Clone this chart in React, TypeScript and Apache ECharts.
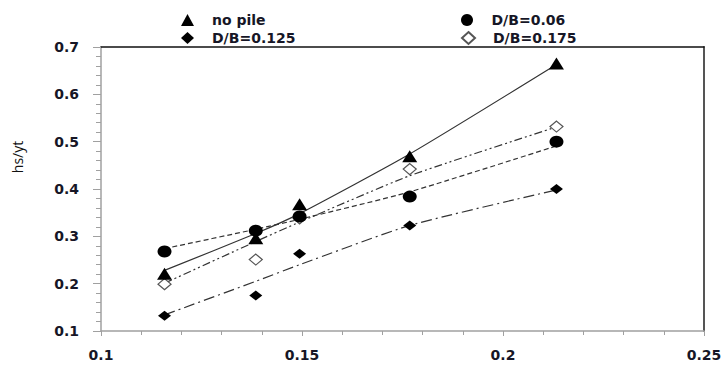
import React, { useEffect, useRef } from "react";
import * as echarts from "echarts";

// x positions of the measurements
const xValues = [0.1158, 0.1385, 0.1494, 0.1768, 0.2133];

// measured points
const noPile = [0.221, 0.296, 0.368, 0.469, 0.665];
const db006 = [0.268, 0.312, 0.342, 0.384, 0.5];
const db0125 = [0.132, 0.175, 0.263, 0.323, 0.4];
const db0175 = [0.199, 0.251, 0.338, 0.442, 0.532];

// trend lines, read at the same x positions
const trendNoPile = [0.228, 0.306, 0.348, 0.474, 0.663];
const trend006 = [0.274, 0.315, 0.336, 0.394, 0.491];
const trend0125 = [0.134, 0.205, 0.24, 0.323, 0.398];
const trend0175 = [0.201, 0.289, 0.33, 0.428, 0.531];

const xTicks = { min: 0.1, max: 0.25, interval: 0.05 };
const yTicks = { min: 0.1, max: 0.7, interval: 0.1 };

const pair = (ys: number[]) => xValues.map((x, i) => [x, ys[i]]);

const FONT = "DejaVu Sans";
const TEXT = "#161626";

export default function App() {
  const ref = useRef<HTMLDivElement>(null);
  useEffect(() => {
    if (!ref.current) return;
    const chart = echarts.init(ref.current, undefined, { renderer: "svg" });
    const trend = (name: string, ys: number[], type: any) => ({
      name,
      type: "line",
      data: pair(ys),
      smooth: 0.2,
      symbol: "none",
      silent: true,
      lineStyle: { color: "#333", width: 1.2, type },
      z: 2,
    });
    const legendItem = (name: string, left: number, top: number) => ({
      data: [name],
      left,
      top,
      itemWidth: 13,
      itemHeight: 12,
      selectedMode: false,
      textStyle: {
        fontFamily: FONT,
        fontWeight: "bold",
        fontSize: 14,
        color: TEXT,
        padding: [0, 0, 0, 13],
      },
    });
    chart.setOption({
      animation: false,
      backgroundColor: "#fff",
      grid: { left: 101, top: 47, right: 21, bottom: 35 },
      legend: [
        legendItem("no pile", 176, 8),
        legendItem("D/B=0.06", 456, 8),
        legendItem("D/B=0.125", 176, 26),
        legendItem("D/B=0.175", 456, 26),
      ],
      xAxis: [
        {
          type: "value",
          ...xTicks,
          axisLine: { lineStyle: { color: "#a0a0a0", width: 1.5 } },
          axisTick: { show: true, length: 5, lineStyle: { color: "#a0a0a0" } },
          minorTick: { show: true, splitNumber: 5, length: 4, lineStyle: { color: "#a0a0a0" } },
          splitLine: { show: false },
          axisLabel: {
            margin: 17,
            fontFamily: FONT,
            fontWeight: "bold",
            fontSize: 14,
            color: TEXT,
            formatter: (v: number) => String(+v.toFixed(2)),
          },
        },
        {
          type: "value",
          position: "top",
          ...xTicks,
          axisLine: { show: true, lineStyle: { color: "#111", width: 1.5 } },
          axisTick: { show: false },
          axisLabel: { show: false },
          splitLine: { show: false },
        },
      ],
      yAxis: [
        {
          type: "value",
          ...yTicks,
          axisLine: { show: true, lineStyle: { color: "#a0a0a0", width: 1.5 } },
          axisTick: { show: true, length: 8, lineStyle: { color: "#a0a0a0" } },
          minorTick: { show: true, splitNumber: 5, length: 5, lineStyle: { color: "#a0a0a0" } },
          splitLine: { show: false },
          axisLabel: {
            margin: 22,
            fontFamily: FONT,
            fontWeight: "bold",
            fontSize: 14,
            color: TEXT,
            formatter: (v: number) => v.toFixed(1),
          },
        },
        {
          type: "value",
          position: "right",
          ...yTicks,
          axisLine: { show: true, lineStyle: { color: "#555", width: 2 } },
          axisTick: { show: false },
          axisLabel: { show: false },
          splitLine: { show: false },
        },
      ],
      graphic: [
        {
          type: "text",
          x: 17,
          y: 157,
          rotation: Math.PI / 2,
          style: {
            text: "hs/yt",
            font: "14px 'Open Sans'",
            fill: "#111",
            align: "center",
            verticalAlign: "middle",
          },
        },
      ],
      series: [
        trend("no pile trend", trendNoPile, "solid"),
        trend("D/B=0.06 trend", trend006, [5, 3]),
        trend("D/B=0.125 trend", trend0125, [11, 4, 2, 4]),
        trend("D/B=0.175 trend", trend0175, [8, 3, 2, 3, 2, 3]),
        {
          name: "D/B=0.175",
          type: "scatter",
          data: pair(db0175),
          symbol: "diamond",
          symbolSize: [13, 11],
          itemStyle: { color: "#fff", borderColor: "#555", borderWidth: 1.2, opacity: 1 },
          z: 3,
        },
        {
          name: "no pile",
          type: "scatter",
          data: pair(noPile),
          symbol: "triangle",
          symbolSize: [15, 12],
          itemStyle: { color: "#000", opacity: 1 },
          z: 4,
        },
        {
          name: "D/B=0.125",
          type: "scatter",
          data: pair(db0125),
          symbol: "diamond",
          symbolSize: [13, 10],
          itemStyle: { color: "#000", opacity: 1 },
          z: 4,
        },
        {
          name: "D/B=0.06",
          type: "scatter",
          data: pair(db006),
          symbol: "circle",
          symbolSize: [14, 12],
          itemStyle: { color: "#000", opacity: 1 },
          z: 5,
        },
      ],
    });
    return () => chart.dispose();
  }, []);
  return <div ref={ref} style={{ width: 725, height: 366, position: "absolute", left: 0, top: 0 }} />;
}
